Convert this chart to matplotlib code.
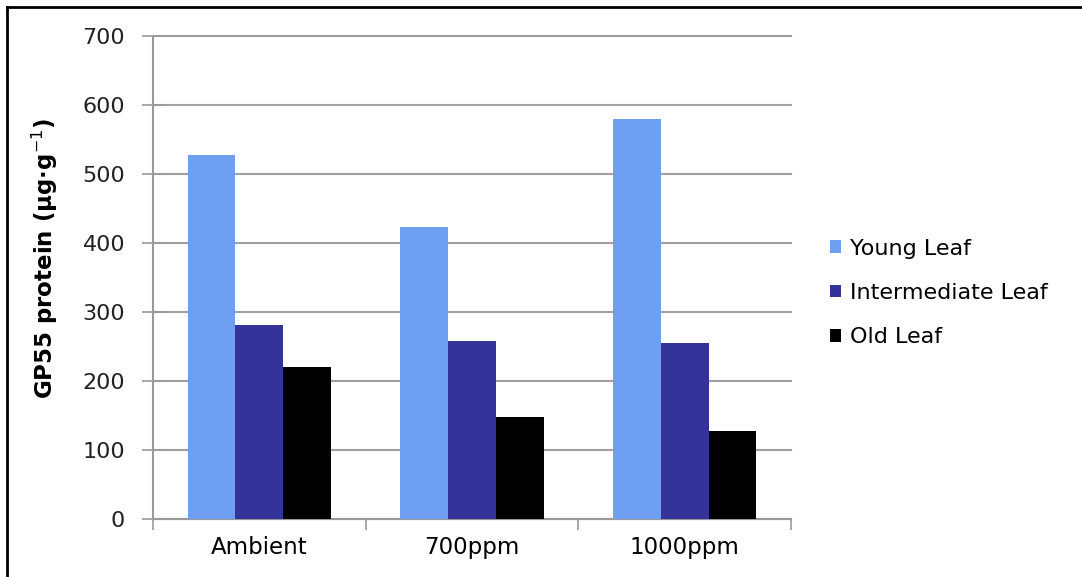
import numpy as np
import matplotlib.pyplot as plt
from matplotlib.lines import Line2D

# GP55 protein content by CO2 treatment and leaf age
treatments = ["Ambient", "700ppm", "1000ppm"]
series_names = ["Young Leaf", "Intermediate Leaf", "Old Leaf"]
young = [527, 423, 580]
intermediate = [281, 258, 255]
old = [220, 148, 128]
yticks = [0, 100, 200, 300, 400, 500, 600, 700]

colors = ["#6F9FF0", "#333399", "#000000"]

fig = plt.figure(figsize=(10.82, 5.77), dpi=100)
ax = fig.add_axes([0.1414, 0.1005, 0.5896, 0.8371])

x = np.arange(len(treatments))
w = 0.225
for i, (vals, name) in enumerate(zip([young, intermediate, old], series_names)):
    ax.bar(x + (i - 1) * w, vals, width=w, color=colors[i], label=name, zorder=3)

ax.set_xlim(-0.5, len(treatments) - 0.5)
ax.set_ylim(0, 700)
ax.set_yticks(yticks)
ax.yaxis.grid(True, color="#a0a0a0", linewidth=1.5, zorder=0, clip_on=False)
ax.set_axisbelow(True)

ax.set_xticks(x)
ax.set_xticklabels(treatments, fontsize=16.5)
ax.set_xticks(np.arange(len(treatments) + 1) - 0.5, minor=True)
ax.tick_params(axis="x", which="major", length=0, pad=12)
ax.tick_params(axis="x", which="minor", length=8, width=1.2, color="#999999", direction="out")
ax.tick_params(axis="y", length=16, width=1.2, color="#999999", direction="inout", labelsize=16, pad=12)
for lbl in ax.get_yticklabels():
    lbl.set_color("#222222")

for s in ["top", "right"]:
    ax.spines[s].set_visible(False)
for s in ["left", "bottom"]:
    ax.spines[s].set_color("#999999")
    ax.spines[s].set_linewidth(1.5)

ax.set_ylabel("GP55 protein (μg·g$^{-1}$)", fontsize=16.5, fontweight="bold")
ax.yaxis.set_label_coords(-0.145, 0.54)

leg = ax.legend(loc="center left", bbox_to_anchor=(1.03, 0.468), frameon=False,
                fontsize=16, handlelength=0.5, handleheight=0.5, handletextpad=0.4,
                labelspacing=1.1)

# outer frame lines on left and top
fig.add_artist(Line2D([0.0065, 0.0065], [0, 0.988], transform=fig.transFigure, color="black", lw=2))
fig.add_artist(Line2D([0.0065, 1.0], [0.988, 0.988], transform=fig.transFigure, color="black", lw=2))

fig.savefig("out.png", dpi=100)
